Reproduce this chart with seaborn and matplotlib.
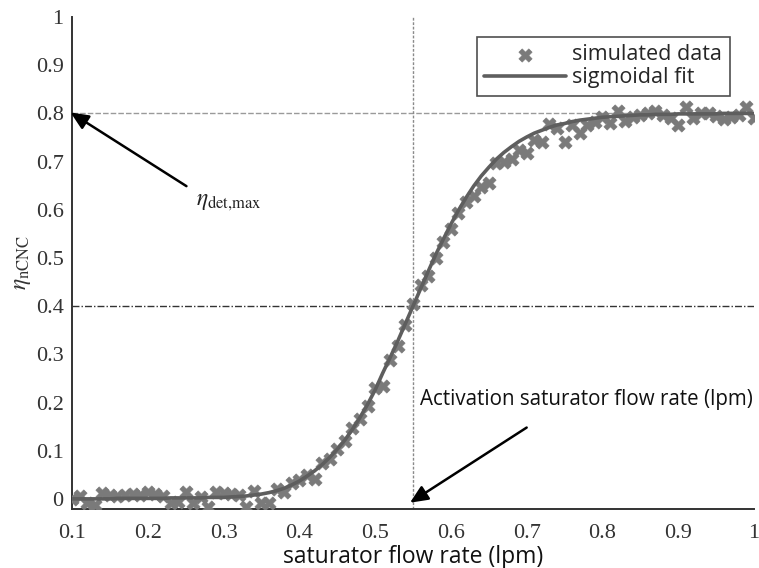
import numpy as np
import pandas as pd
import matplotlib
matplotlib.use("Agg")
import matplotlib.pyplot as plt
import seaborn as sns

# Saturator flow rate (lpm) sampled every 0.01
flow = [round(0.10 + 0.01 * i, 2) for i in range(91)]

# Simulated counting efficiency
eta_sim = [
    0.000, 0.005, -0.008, -0.012, 0.012, 0.008, 0.005, 0.008, 0.010, 0.008,
    0.014, 0.010, 0.006, -0.008, -0.006, 0.015, -0.008, 0.004, -0.016, 0.014,
    0.012, 0.010, 0.008, -0.016, 0.017, -0.009, -0.009, 0.020, 0.015, 0.033,
    0.040, 0.050, 0.042, 0.074, 0.082, 0.104, 0.120, 0.147, 0.165, 0.192,
    0.230, 0.234, 0.288, 0.318, 0.361, 0.405, 0.444, 0.462, 0.500, 0.534,
    0.560, 0.594, 0.617, 0.628, 0.648, 0.655, 0.697, 0.700, 0.705, 0.724,
    0.718, 0.745, 0.740, 0.778, 0.770, 0.741, 0.776, 0.760, 0.776, 0.782,
    0.793, 0.780, 0.805, 0.785, 0.792, 0.797, 0.800, 0.804, 0.797, 0.790,
    0.776, 0.814, 0.790, 0.800, 0.800, 0.795, 0.788, 0.793, 0.797, 0.814,
    0.790,
]

# Sigmoidal fit evaluated at the same flow rates
eta_fit = [
    0.000, 0.000, 0.000, 0.000, 0.000, 0.000, 0.001, 0.001, 0.001, 0.001,
    0.001, 0.001, 0.001, 0.002, 0.002, 0.002, 0.002, 0.002, 0.003, 0.003,
    0.003, 0.004, 0.005, 0.006, 0.008, 0.010, 0.013, 0.017, 0.022, 0.029,
    0.037, 0.047, 0.058, 0.071, 0.086, 0.103, 0.122, 0.144, 0.169, 0.196,
    0.226, 0.261, 0.294, 0.328, 0.364, 0.400, 0.436, 0.472, 0.507, 0.539,
    0.570, 0.599, 0.625, 0.649, 0.670, 0.688, 0.705, 0.719, 0.731, 0.742,
    0.751, 0.759, 0.765, 0.771, 0.776, 0.779, 0.783, 0.786, 0.788, 0.790,
    0.792, 0.793, 0.794, 0.795, 0.796, 0.797, 0.797, 0.798, 0.798, 0.798,
    0.799, 0.799, 0.799, 0.799, 0.799, 0.799, 0.800, 0.800, 0.800, 0.800,
    0.800,
]

eta_max = 0.8
eta_half = 0.4
flow_act = 0.55

df = pd.DataFrame({"flow": flow, "sim": eta_sim, "fit": eta_fit})

sns.set_theme(style="white")
plt.rcParams["font.family"] = ["Liberation Serif", "DejaVu Serif"]
plt.rcParams["mathtext.fontset"] = "stix"
sans = ["Open Sans", "DejaVu Sans"]

fig = plt.figure(figsize=(7.59, 5.68), dpi=100)
ax = fig.add_axes([0.0949, 0.1039, 0.8985, 0.8661])

# Reference lines
ax.axhline(eta_max, color="#9a9a9a", lw=1.0, ls=(0, (4, 1.5)), zorder=1)
ax.axhline(eta_half, color="#333333", lw=1.0, ls=(0, (5, 1.5, 1, 1.5)), zorder=1)
ax.axvline(flow_act, color="#8a8a8a", lw=1.0, ls=(0, (2, 1.2)), zorder=1)

sns.scatterplot(data=df, x="flow", y="sim", ax=ax, marker="X", s=90,
                color="#7a7a7a", edgecolor="#7a7a7a", linewidth=0.5,
                label="simulated data", zorder=3)
sns.lineplot(data=df, x="flow", y="fit", ax=ax, color="#5e5e5e", lw=2.6,
             label="sigmoidal fit", zorder=4)

ax.set_xlim(0.1, 1.0)
ax.set_ylim(-0.021, 1.0)
ax.set_xticks([0.1, 0.2, 0.3, 0.4, 0.5, 0.6, 0.7, 0.8, 0.9, 1.0])
ax.set_xticklabels(["0.1", "0.2", "0.3", "0.4", "0.5", "0.6", "0.7", "0.8", "0.9", "1"])
ax.set_yticks([0, 0.1, 0.2, 0.3, 0.4, 0.5, 0.6, 0.7, 0.8, 0.9, 1.0])
ax.set_yticklabels(["0", "0.1", "0.2", "0.3", "0.4", "0.5", "0.6", "0.7", "0.8", "0.9", "1"])
ax.tick_params(direction="in", length=6, width=1.2, color="#333333",
               labelsize=16, labelcolor="#333333", pad=6)
ax.tick_params(axis="x", pad=11)

for side in ("top", "right"):
    ax.spines[side].set_visible(False)
for side in ("left", "bottom"):
    ax.spines[side].set_color("#333333")
    ax.spines[side].set_linewidth(1.4)

ax.set_xlabel("saturator flow rate (lpm)", family=sans,
              fontsize=16.5, color="#111111", labelpad=1.5)
ax.set_ylabel(r"$\eta_{\rm nCNC}$", fontsize=17, color="#333333", labelpad=2)

# Annotations
ax.annotate("", xy=(0.098, 0.802), xytext=(0.251, 0.649),
            annotation_clip=False,
            arrowprops=dict(arrowstyle="-|>,head_length=0.9,head_width=0.4",
                            color="black", lw=1.8, shrinkA=0, shrinkB=0))
ax.text(0.264, 0.615, r"$\eta_{\rm det{,}max}$", fontsize=17, color="#222222",
        ha="left", va="center")

ax.annotate("", xy=(0.546, -0.008), xytext=(0.70, 0.148),
            annotation_clip=False,
            arrowprops=dict(arrowstyle="-|>,head_length=0.9,head_width=0.4",
                            color="black", lw=1.8, shrinkA=0, shrinkB=0))
ax.text(0.559, 0.207, "Activation saturator flow rate (lpm)",
        family=sans, fontsize=14.8, color="#111111",
        ha="left", va="center")

leg = ax.legend(loc="upper right", bbox_to_anchor=(0.9645, 0.96),
                prop={"family": sans, "size": 15.5},
                frameon=True, fancybox=False, edgecolor="#222222",
                handlelength=3.8, handletextpad=0.3, borderpad=0.35,
                labelspacing=0.1, borderaxespad=0)
leg.get_frame().set_linewidth(1.2)

fig.savefig("out.png", dpi=100)
